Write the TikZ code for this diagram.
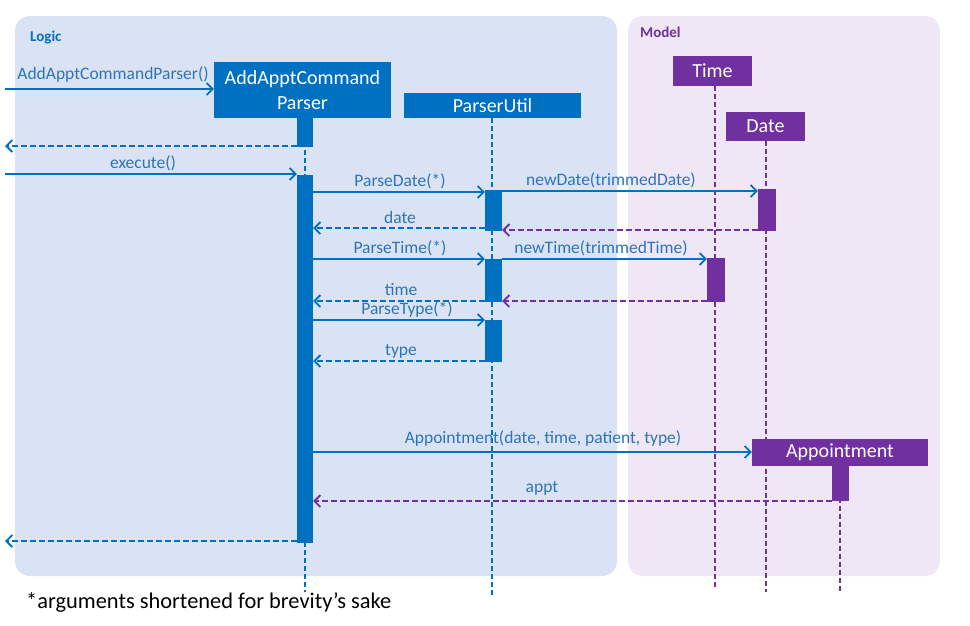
\documentclass[tikz,border=0pt]{standalone}
\usepackage{fontspec}
\setmainfont{Carlito}
\usetikzlibrary{arrows.meta}
\definecolor{ublue}{HTML}{0070C0}
\definecolor{tblue}{HTML}{2E75B6}
\definecolor{upurp}{HTML}{7030A0}
\definecolor{lbg}{HTML}{DAE3F3}
\definecolor{mbg}{HTML}{EFE7F6}
\begin{document}
\begin{tikzpicture}[x=1pt,y=-1pt,
 obj/.style={fill=#1, text=white, inner sep=0pt, font=\fontsize{20}{25}\selectfont, align=center},
 act/.style={fill=#1, inner sep=0pt},
 life/.style={draw=#1, line width=1.6pt, dash pattern=on 5pt off 3pt},
 msg/.style={draw=ublue, line width=1.8pt, -{Straight Barb[length=6pt,width=12pt,line width=1.8pt]}},
 ret/.style={draw=#1, line width=1.8pt, dash pattern=on 6pt off 3pt, -{Straight Barb[length=6pt,width=12pt,line width=1.8pt]}},
 lbl/.style={text=tblue, font=\fontsize{17.5}{20}\selectfont, inner sep=0pt, anchor=base},
 title/.style={font=\fontsize{15}{17}\selectfont\bfseries, inner sep=0pt, anchor=base west}
]
\useasboundingbox (0,0) rectangle (970,625);
% panels
\fill[lbg, rounded corners=15pt] (15,16) rectangle (617,576);
\fill[mbg, rounded corners=15pt] (628,16) rectangle (940,576);
\node[title, text=ublue] (logic) at (30,41) {Logic};
\node[title, text=upurp] (model) at (640,37) {Model};

% objects
\node[obj=ublue, minimum width=177pt, minimum height=56pt] (acp) at (302.5,90) {AddApptCommand\\Parser};
\node[obj=ublue, minimum width=177pt, minimum height=25pt] (pu) at (492.5,105.5) {ParserUtil};
\node[obj=upurp, minimum width=79pt, minimum height=30pt] (time) at (712.5,71) {Time};
\node[obj=upurp, minimum width=79pt, minimum height=29pt] (date) at (765.5,126.5) {Date};
\node[obj=upurp, minimum width=176pt, minimum height=27pt] (appt) at (840,452) {Appointment};

% lifeline ends
\coordinate (acpEnd) at (305,592);
\coordinate (puEnd) at (492,597);
\coordinate (timeEnd) at (715,590);
\coordinate (dateEnd) at (766,592);
\coordinate (apptEnd) at (840,592);
\draw[life=ublue] (acpEnd |- acp.south) -- (acpEnd);
\draw[life=ublue] (puEnd |- pu.south) -- (puEnd);
\draw[life=upurp] (timeEnd |- time.south) -- (timeEnd);
\draw[life=upurp] (dateEnd |- date.south) -- (dateEnd);
\draw[life=upurp] (apptEnd |- appt.south) -- (apptEnd);

% activations
\node[act=ublue, minimum width=16pt, minimum height=29pt] (a1) at (305,132.5) {};
\node[act=ublue, minimum width=16pt, minimum height=368pt] (a2) at (305,359) {};
\node[act=ublue, minimum width=17pt, minimum height=41pt] (p1) at (493.5,210.5) {};
\node[act=ublue, minimum width=17pt, minimum height=43pt] (p2) at (493.5,280.5) {};
\node[act=ublue, minimum width=17pt, minimum height=42pt] (p3) at (493.5,341) {};
\node[act=upurp, minimum width=18pt, minimum height=44pt] (t1) at (716,280) {};
\node[act=upurp, minimum width=18pt, minimum height=42pt] (d1) at (767,210) {};
\node[act=upurp, minimum width=17pt, minimum height=36pt] (ap1) at (840.5,483) {};

% external coordinates
\coordinate (ext1) at (5,89);
\coordinate (ext2) at (5,146);
\coordinate (ext3) at (5,174);
\coordinate (ext4) at (5,541);

% messages
\draw[msg] (ext1) -- (acp.west |- ext1);
\node[lbl] (l1) at (113,79) {AddApptCommandParser()};
\draw[ret=ublue] (a1.west |- ext2) -- (ext2);
\draw[msg] (ext3) -- (a2.west |- ext3);
\node[lbl] (l2) at (143,168) {execute()};

\draw[msg] (a2.east |- 0,192) -- (p1.west |- 0,192);
\node[lbl] (l3) at (400,186) {ParseDate(*)};
\draw[msg] (p1.east |- 0,191) -- (d1.west |- 0,191);
\node[lbl] (l4) at (611,185) {newDate(trimmedDate)};
\draw[ret=ublue] (p1.west |- 0,228) -- (a2.east |- 0,228);
\node[lbl] (l5) at (400,223) {date};
\draw[ret=upurp] (d1.west |- 0,230) -- (p1.east |- 0,230);

\draw[msg] (a2.east |- 0,259) -- (p2.west |- 0,259);
\node[lbl] (l6) at (400,253) {ParseTime(*)};
\draw[msg] (p2.east |- 0,259) -- (t1.west |- 0,259);
\node[lbl] (l7) at (601,253) {newTime(trimmedTime)};
\draw[ret=ublue] (p2.west |- 0,301) -- (a2.east |- 0,301);
\node[lbl] (l8) at (401,295) {time};
\draw[ret=upurp] (t1.west |- 0,301) -- (p2.east |- 0,301);

\draw[msg] (a2.east |- 0,320) -- (p3.west |- 0,320);
\node[lbl] (l9) at (407,314) {ParseType(*)};
\draw[ret=ublue] (p3.west |- 0,361) -- (a2.east |- 0,361);
\node[lbl] (l10) at (401,355) {type};

\draw[msg] (a2.east |- appt.west) -- (appt.west);
\node[lbl] (l11) at (543,443) {Appointment(date, time, patient, type)};
\draw[ret=upurp] (ap1.west |- 0,501) -- (a2.east |- 0,501);
\node[lbl] (l12) at (542,492) {appt};

\draw[ret=ublue] (a2.west |- ext4) -- (ext4);

% footnote
\node[inner sep=0pt, anchor=base west, font=\fontsize{22.4}{26}\selectfont] (foot) at (26,608) {*arguments shortened for brevity’s sake};
\end{tikzpicture}
\end{document}
